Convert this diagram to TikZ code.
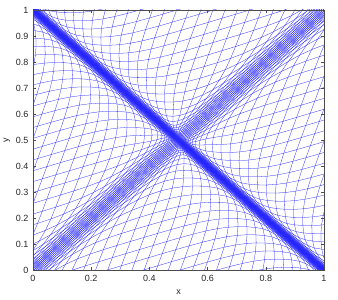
\documentclass[tikz,border=0pt]{standalone}
\usepackage{fontspec}
\setmainfont{Liberation Sans}
\tikzset{
  rsmesh/.style={draw=blue!88, line width=0.27pt, line join=round},
  axisline/.style={draw=black!70, line width=0.5pt},
  ticklabel/.style={inner sep=0pt, font=\fontsize{9}{10}\selectfont, text=black!85},
  axlabel/.style={inner sep=0pt, font=\fontsize{9}{10}\selectfont, text=black!85}
}
\ExplSyntaxOn
\fp_new:N \l_rs_lo_fp
\fp_new:N \l_rs_hi_fp
\fp_new:N \l_rs_mid_fp
\int_new:N \l_rs_lo_int
\int_new:N \l_rs_hi_int
\tl_new:N \l_rs_line_tl
\cs_new:Npn \rs_th:n #1 { (1 - 2/(exp(2*(#1))+1)) }
\cs_new:Npn \rs_S:n #1 { ((#1) + 1.3*\rs_th:n{(#1)/0.018} + 0.27*\rs_th:n{(#1)/0.14}) }
\cs_new:Npn \rs_T:n #1 { (2*((#1) + 0.4*\rs_th:n{(#1)/0.05})) }
\cs_new_protected:Npn \rs_invert:Nnnn #1#2#3#4
  {
    \fp_set:Nn \l_rs_lo_fp {0}
    \fp_set:Nn \l_rs_hi_fp {3}
    \prg_replicate:nn {30}
      {
        \fp_set:Nn \l_rs_mid_fp { (\l_rs_lo_fp + \l_rs_hi_fp)/2 }
        \fp_compare:nNnTF { #1 { \l_rs_mid_fp } } < { #2 }
          { \fp_set_eq:NN \l_rs_lo_fp \l_rs_mid_fp }
          { \fp_set_eq:NN \l_rs_hi_fp \l_rs_mid_fp }
      }
    \tl_gset:cx { rsv#3#4 } { \fp_eval:n { round((\l_rs_lo_fp + \l_rs_hi_fp)/2, 5) } }
    \tl_gset:cx { rsv#3-#4 } { \fp_eval:n { 0 - round((\l_rs_lo_fp + \l_rs_hi_fp)/2, 5) } }
  }
\int_step_inline:nnn {0} {42} { \rs_invert:Nnnn \rs_S:n { #1 * 0.0625 } {S} {#1} }
\int_step_inline:nnn {0} {46} { \rs_invert:Nnnn \rs_T:n { #1 * 0.0625 } {T} {#1} }
\cs_new:Npn \rs_pt:nn #1#2 { ( \use:c { rsvS \int_eval:n {#1} } , \use:c { rsvT \int_eval:n {#2} } ) }
\cs_new_protected:Npn \rs_draw_line:n #1 { \draw [rsmesh] #1 ; }
\cs_generate_variant:Nn \rs_draw_line:n { V }
\cs_new_protected:Npn \rsDrawMesh
  {
    \int_step_inline:nnn {-44} {44}
      {
        \int_set:Nn \l_rs_lo_int { \int_max:nn {-42} {2*##1-46} }
        \int_set:Nn \l_rs_hi_int { \int_min:nn {42} {2*##1+46} }
        \tl_set:Nx \l_rs_line_tl { \rs_pt:nn {\l_rs_lo_int} {2*##1-\l_rs_lo_int} }
        \int_step_inline:nnn { \l_rs_lo_int + 1 } { \l_rs_hi_int }
          { \tl_put_right:Nx \l_rs_line_tl { -- \rs_pt:nn {####1} {2*##1-####1} } }
        \rs_draw_line:V \l_rs_line_tl
      }
    \int_step_inline:nnn {-44} {44}
      {
        \int_set:Nn \l_rs_lo_int { \int_max:nn {-42} {2*##1-46} }
        \int_set:Nn \l_rs_hi_int { \int_min:nn {42} {2*##1+46} }
        \tl_set:Nx \l_rs_line_tl { \rs_pt:nn {\l_rs_lo_int} {\l_rs_lo_int-2*##1} }
        \int_step_inline:nnn { \l_rs_lo_int + 1 } { \l_rs_hi_int }
          { \tl_put_right:Nx \l_rs_line_tl { -- \rs_pt:nn {####1} {####1-2*##1} } }
        \rs_draw_line:V \l_rs_line_tl
      }
  }
\ExplSyntaxOff
\begin{document}
\begin{tikzpicture}[x=1pt,y=1pt]
\useasboundingbox (0,0) rectangle (338,300);
\begin{scope}
  \clip (33,30) rectangle (324,290);
  \begin{scope}[shift={(178.5,160)}, x={(145.5pt,130pt)}, y={(145.5pt,-130pt)}]
    \rsDrawMesh
  \end{scope}
\end{scope}
\draw[axisline] (33,30) rectangle (324,290);
\foreach \k/\lab in {0/0,1/0.2,2/0.4,3/0.6,4/0.8,5/1}{
  \draw[axisline] ({33+58.2*\k},30) -- ++(0,3);
  \draw[axisline] ({33+58.2*\k},290) -- ++(0,-3);
  \node[ticklabel, anchor=north] (xt\k) at ({33+58.2*\k},25) {\lab};
}
\foreach \k/\lab in {0/0,1/0.1,2/0.2,3/0.3,4/0.4,5/0.5,6/0.6,7/0.7,8/0.8,9/0.9,10/1}{
  \draw[axisline] (33,{30+26*\k}) -- ++(3,0);
  \draw[axisline] (324,{30+26*\k}) -- ++(-3,0);
  \node[ticklabel, anchor=east] (yt\k) at (28.5,{30+26*\k}) {\lab};
}
\node[axlabel] (xlab) at (178.5,8) {x};
\node[axlabel, rotate=90] (ylab) at (7,160) {y};
\end{tikzpicture}
\end{document}
